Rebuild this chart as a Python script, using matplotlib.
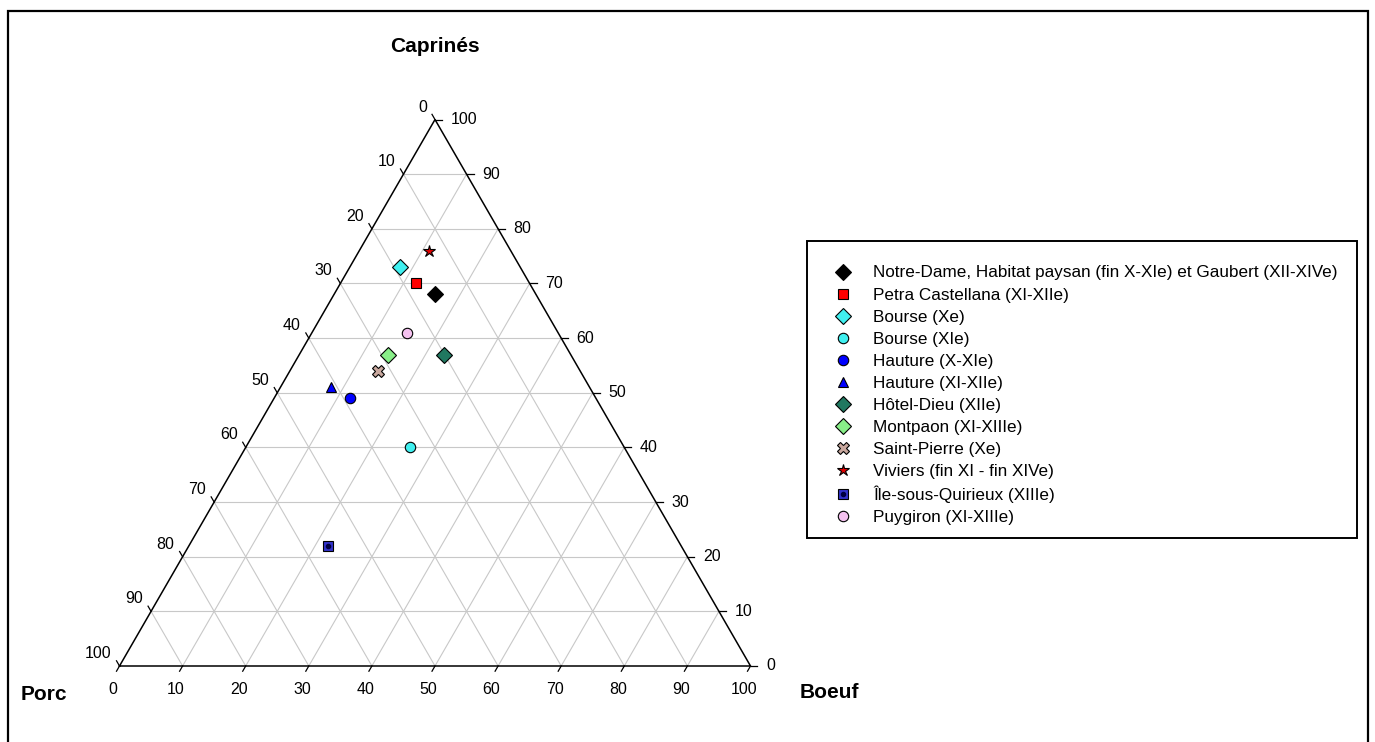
import numpy as np
import matplotlib
matplotlib.use("Agg")
import matplotlib.pyplot as plt
from matplotlib.patches import Rectangle

plt.rcParams['font.family'] = ['Liberation Sans', 'DejaVu Sans']

# ---- data (percentages) ----
sites = ["Notre-Dame, Habitat paysan (fin X-XIe) et Gaubert (XII-XIVe)",
         "Petra Castellana (XI-XIIe)",
         "Bourse (Xe)",
         "Bourse (XIe)",
         "Hauture (X-XIe)",
         "Hauture (XI-XIIe)",
         "Hôtel-Dieu (XIIe)",
         "Montpaon (XI-XIIIe)",
         "Saint-Pierre (Xe)",
         "Viviers (fin XI - fin XIVe)",
         "Île-sous-Quirieux (XIIIe)",
         "Puygiron (XI-XIIIe)"]
porc     = [16, 18, 19, 34, 39, 41, 20, 29, 32, 13, 56, 24]
caprines = [68, 70, 73, 40, 49, 51, 57, 57, 54, 76, 22, 61]
boeuf    = [16, 12,  8, 26, 12,  8, 23, 14, 14, 11, 22, 15]

ticks = list(range(0, 101, 10))

# marker styles
markers = ['D', 's', 'D', 'o', 'o', '^', 'D', 'D', 'X', '*', 's', 'o']
faces   = ['#000000', '#FF0000', '#40F0F0', '#40F0F0', '#0000FF', '#0000FF',
           '#207860', '#88EE88', '#C9A89E', '#E00000', '#3333CC', '#F5C2F0']
sizes   = [8, 7, 8, 7.5, 7.5, 7.5, 8, 8, 8, 9, 7.5, 7.5]

W, H = 1375, 742
fig = plt.figure(figsize=(W / 100, H / 100), dpi=100)
ax = fig.add_axes([0, 0, 1, 1])
S = 6.31           # pixels per unit
X0, Y0 = 119.5, 666.0
ax.set_xlim(-X0 / S, (W - X0) / S)
ax.set_ylim(-(H - Y0) / S, Y0 / S)
ax.axis('off')

R3 = np.sqrt(3) / 2


def tern(b, c):
    b = np.asarray(b, float)
    c = np.asarray(c, float)
    return b + c / 2, c * R3


# grid
gc = '#c8c8c8'
for k in range(10, 100, 10):
    x1, y1 = tern(0, k); x2, y2 = tern(100 - k, k)
    ax.plot([x1, x2], [y1, y2], color=gc, lw=0.8, zorder=1)
    x1, y1 = tern(k, 0); x2, y2 = tern(k, 100 - k)
    ax.plot([x1, x2], [y1, y2], color=gc, lw=0.8, zorder=1)
    x1, y1 = tern(100 - k, 0); x2, y2 = tern(0, 100 - k)
    ax.plot([x1, x2], [y1, y2], color=gc, lw=0.8, zorder=1)

# triangle
tx, ty = tern([0, 100, 0, 0], [0, 0, 100, 0])
ax.plot(tx, ty, color='black', lw=1.1, zorder=2, solid_joinstyle='miter')

tl = 6.0 / S
fs_t = 11.5
for v in ticks:
    # bottom axis (Boeuf)
    x, y = tern(v, 0)
    ax.plot([x, x - 0.5 * tl], [y, y - R3 * tl], color='black', lw=0.9, zorder=2)
    ax.text(x - 6.5 / S, y - 24 / S, str(v), ha='center', va='center', fontsize=fs_t)
    # left axis (Porc)
    x, y = tern(0, 100 - v)
    ax.plot([x, x - 0.5 * tl], [y, y + R3 * tl], color='black', lw=0.9, zorder=2)
    ax.text(x - 8 / S, y + 12.5 / S, str(v), ha='right', va='center', fontsize=fs_t)
    # right axis (Caprinés)
    x, y = tern(100 - v, v)
    ax.plot([x, x + 7 / S], [y, y], color='black', lw=0.9, zorder=2)
    ax.text(x + 15.5 / S, y, str(v), ha='left', va='center', fontsize=fs_t)


def px(xp, yp):
    return (xp - X0) / S, (Y0 - yp) / S


ax.text(*px(435, 47), "Caprinés", ha='center', va='center', fontsize=15, fontweight='bold')
ax.text(*px(44, 695), "Porc", ha='center', va='center', fontsize=15, fontweight='bold')
ax.text(*px(829, 693), "Boeuf", ha='center', va='center', fontsize=15, fontweight='bold')

# points
handles = []
xs, ys = tern(boeuf, caprines)
for i, name in enumerate(sites):
    ln, = ax.plot(xs[i], ys[i], linestyle='none', marker=markers[i], markersize=sizes[i],
                  markerfacecolor=faces[i], markeredgecolor='#000000',
                  markeredgewidth=0.8, zorder=5)
    if i == 10:
        dot, = ax.plot(xs[i], ys[i], linestyle='none', marker='o', markersize=3,
                       markerfacecolor='#000040', markeredgecolor='#000040', zorder=6)
        handles.append((ln, dot))
    else:
        handles.append(ln)

leg = ax.legend(handles, sites, loc='upper left',
                bbox_to_anchor=(834.5 / W, 1 - 265.5 / H), bbox_transform=fig.transFigure,
                frameon=False, fontsize=12.3, borderpad=0, borderaxespad=0,
                handlelength=1.0, handletextpad=1.25, labelspacing=0.41)

# legend frame
fig.patches.append(Rectangle((807, H - 538), 550, 297, transform=None, fill=False,
                             edgecolor='black', lw=1.4))
# outer frame
fig.patches.append(Rectangle((8, -10), 1360, H - 11 + 10, transform=None, fill=False,
                             edgecolor='black', lw=1.6))

fig.savefig('out.png', dpi=100)
